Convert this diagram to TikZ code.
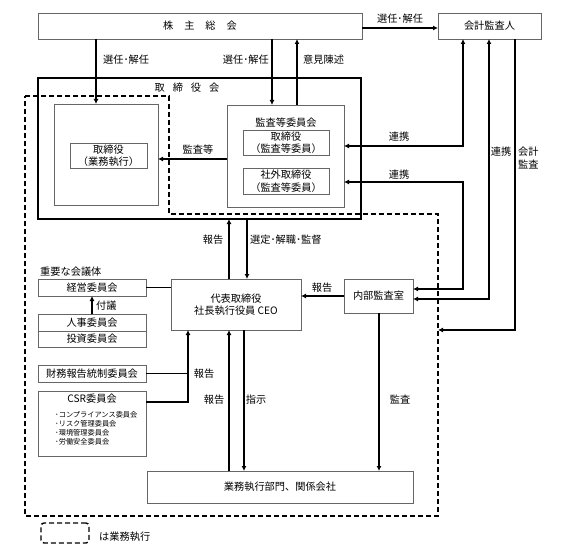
\documentclass[tikz,border=0pt]{standalone}
\usepackage{fontspec}
\setmainfont{Noto Sans CJK JP}
\usetikzlibrary{arrows.meta,calc}
\newcommand\mfs{\fontsize{10.2}{12.5}\selectfont}
\newcommand\sfs{\fontsize{7.2}{9}\selectfont}
\begin{document}
\begin{tikzpicture}[x=1pt,y=-1pt,
  box/.style={draw=black!60,line width=0.8pt,inner sep=0pt,outer sep=0pt,rectangle,font=\mfs,align=center},
  arr/.style={line width=1.6pt,-{Latex[length=5pt,width=5pt]}},
  darr/.style={line width=1.6pt,{Latex[length=5pt,width=5pt]}-{Latex[length=5pt,width=5pt]}},
  ln/.style={line width=1.6pt},
  lbl/.style={font=\mfs,inner sep=0pt},
  dsh/.style={line width=1.4pt,dash pattern=on 5pt off 3pt},
]
\useasboundingbox (0,0) rectangle (567,556);

% boxes
\node[box,minimum width=324pt,minimum height=26pt] (sh) at (200,26) {株\hspace{11pt}主\hspace{11pt}総\hspace{11pt}会};
\node[box,minimum width=103pt,minimum height=26pt] (kaikei) at (489.5,26) {会計監査人};
\node[box,draw=black,line width=1.6pt,minimum width=323pt,minimum height=141pt] (bod) at (199.5,148.5) {};
\node[lbl] (bodt) at (187,88) {取\hspace{8pt}締\hspace{8pt}役\hspace{8pt}会};
\node[box,minimum width=104pt,minimum height=101pt] (exec) at (106,154.5) {};
\node[box,minimum width=77pt,minimum height=25pt] (execin) at (108.5,155.5) {取締役\\（業務執行）};
\node[box,minimum width=117pt,minimum height=102pt] (audit) at (285.5,156) {};
\node[lbl] (auditt) at (286,123) {監査等委員会};
\node[box,minimum width=86pt,minimum height=25pt] (aud1) at (286,142.5) {取締役\\（監査等委員）};
\node[box,minimum width=86pt,minimum height=26pt] (aud2) at (286,181) {社外取締役\\（監査等委員）};
\node[box,minimum width=130pt,minimum height=51pt] (ceo) at (236,304.5) {代表取締役\\社長執行役員 CEO};
\node[box,minimum width=69pt,minimum height=34pt] (naibu) at (378.5,296) {内部監査室};
\node[box,minimum width=108pt,minimum height=17pt] (keiei) at (92,287.5) {経営委員会};
\node[box,minimum width=108pt,minimum height=17pt] (jinji) at (92,322.5) {人事委員会};
\node[box,minimum width=108pt,minimum height=16pt] (toushi) at (92,339) {投資委員会};
\node[box,minimum width=108pt,minimum height=17pt] (zaimu) at (92,373.5) {財務報告統制委員会};
\node[box,minimum width=108pt,minimum height=65pt] (csr) at (92,423.5) {};
\node[lbl] (csrt) at (92,399) {CSR委員会};
\node[lbl,font=\sfs,align=left,anchor=north west] (csrl) at (55,411) {･コンプライアンス委員会\\･リスク管理委員会\\･環境管理委員会\\･労働安全委員会};
\node[box,minimum width=266pt,minimum height=32pt] (gyomu) at (280,487) {業務執行部門、関係会社};

% dashed region
\draw[dsh] (25,96) -- (169,96) -- (169,214) -- (438,214) -- (438,516) -- (25,516) -- cycle;
\node[draw,dsh,rounded corners=3pt,minimum width=48pt,minimum height=20pt,inner sep=0pt] (leg) at (65,533) {};
\node[lbl,anchor=west] (legt) at (99,537) {は業務執行};

% helper coordinates
\coordinate (xA) at (96,0);
\coordinate (xB) at (272,0);
\coordinate (xC) at (297,0);
\coordinate (xD) at (229,0);
\coordinate (xE) at (247,0);
\coordinate (xF) at (244,0);
\coordinate (xG) at (188,0);
\coordinate (xH) at (463,0);
\coordinate (xI) at (489,0);
\coordinate (xJ) at (515,0);
\coordinate (xK) at (379,0);
\coordinate (yA) at (0,28);
\coordinate (yB) at (0,159);
\coordinate (yC) at (0,146);
\coordinate (yD) at (0,182);
\coordinate (yE) at (0,289);
\coordinate (yF) at (0,299);
\coordinate (yG) at (0,330);
\coordinate (yI) at (0,402);
\coordinate (dR) at (438,330);

% connectors
\draw[arr] (xA |- sh.south) -- (xA |- exec.north);
\draw[arr] (xB |- sh.south) -- (xB |- audit.north);
\draw[arr] (xC |- audit.north) -- (xC |- sh.south);
\draw[arr] (sh.east |- yA) -- (kaikei.west |- yA);
\draw[arr] (audit.west |- yB) -- (exec.east |- yB);
\draw[darr] (audit.east |- yC) -- (xH |- yC) -- (xH |- kaikei.south);
\draw[darr] (audit.east |- yD) -- (xH |- yD) -- (xH |- yE) -- (naibu.east |- yE);
\draw[darr] (xI |- kaikei.south) -- (xI |- yF) -- (naibu.east |- yF);
\draw[arr] (xJ |- kaikei.south) -- (xJ |- yG) -- (dR);
\draw[arr] (xD |- ceo.north) -- (xD |- bod.south);
\draw[arr] (xE |- bod.south) -- (xE |- ceo.north);
\draw[ln] (keiei.east) -- (ceo.west |- keiei.east);
\draw[arr] (jinji.north) -- (keiei.south);
\draw[ln] (zaimu.east) -- (xG |- zaimu.east);
\draw[arr] (csr.east |- yI) -- (xG |- yI) -- (xG |- ceo.south);
\draw[arr] (xD |- gyomu.north) -- (xD |- ceo.south);
\draw[arr] (xF |- ceo.south) -- (xF |- gyomu.north);
\draw[arr] (naibu.west) -- (ceo.east |- naibu.west);
\draw[arr] (xK |- naibu.south) -- (xK |- gyomu.north);

% labels
\node[lbl,anchor=west] (l1) at (103,60) {選任･解任};
\node[lbl,anchor=east] (l2) at (269,60) {選任･解任};
\node[lbl,anchor=west] (l3) at (303,60) {意見陳述};
\node[lbl] (l4) at (400,19) {選任･解任};
\node[lbl] (l5) at (198,150) {監査等};
\node[lbl] (l6) at (399,137) {連携};
\node[lbl] (l7) at (399,175) {連携};
\node[lbl] (l8) at (501,152) {連携};
\node[lbl,align=left,anchor=west] (l9) at (518,158) {会計\\監査};
\node[lbl] (l10) at (213,240) {報告};
\node[lbl,anchor=west] (l11) at (250,240) {選定･解職･監督};
\node[lbl,anchor=west] (l12) at (40,272) {重要な会議体};
\node[lbl,anchor=west] (l13) at (96,306) {付議};
\node[lbl] (l14) at (204,374) {報告};
\node[lbl] (l15) at (214,400) {報告};
\node[lbl] (l16) at (256,400) {指示};
\node[lbl] (l17) at (322,288) {報告};
\node[lbl] (l18) at (400,400) {監査};
\end{tikzpicture}
\end{document}
